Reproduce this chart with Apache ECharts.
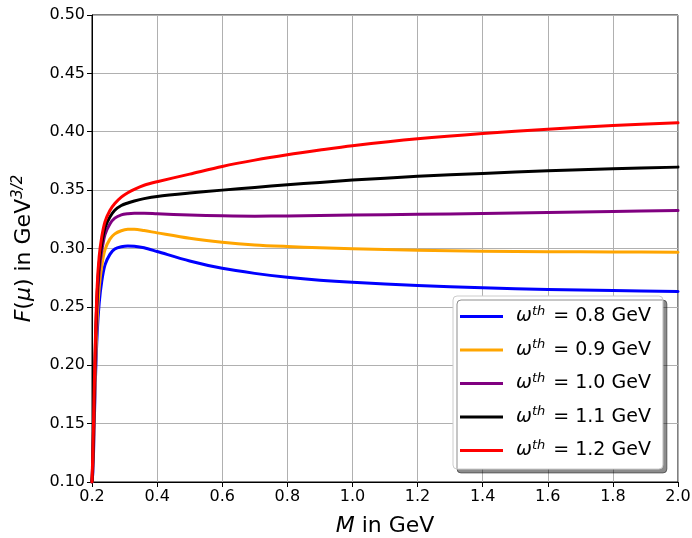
<!DOCTYPE html>
<html>
<head>
<meta charset="utf-8">
<script src="https://cdn.jsdelivr.net/npm/echarts@6/dist/echarts.min.js"></script>
<style>html,body{margin:0;padding:0;background:#fff}#c{width:692px;height:538px}</style>
</head>
<body>
<div id="c"></div>
<script>
const M = [0.2, 0.203, 0.206, 0.21, 0.216, 0.222, 0.23, 0.24, 0.255, 0.27, 0.29, 0.31, 0.33, 0.36, 0.4, 0.5, 0.6, 0.7, 0.8, 0.9, 1.0, 1.2, 1.4, 1.6, 1.8, 2.0];
const F08 = [0.10, 0.11, 0.139, 0.183, 0.228, 0.253, 0.272, 0.286, 0.295, 0.2995, 0.3015, 0.3022, 0.302, 0.3006, 0.2974, 0.2893, 0.2830, 0.2787, 0.2754, 0.2729, 0.2711, 0.2683, 0.2663, 0.2649, 0.2640, 0.2631];
const F09 = [0.10, 0.115, 0.145, 0.192, 0.24, 0.266, 0.285, 0.299, 0.308, 0.3125, 0.3152, 0.3164, 0.3165, 0.3154, 0.3134, 0.3087, 0.3054, 0.3031, 0.3017, 0.3006, 0.2997, 0.2985, 0.2977, 0.2973, 0.2970, 0.2968];
const F10 = [0.10, 0.12, 0.155, 0.205, 0.255, 0.28, 0.298, 0.312, 0.321, 0.326, 0.3288, 0.3298, 0.3302, 0.3302, 0.3297, 0.3286, 0.328, 0.3277, 0.3279, 0.3283, 0.3287, 0.3293, 0.3300, 0.3309, 0.3317, 0.3326];
const F11 = [0.10, 0.125, 0.162, 0.212, 0.262, 0.287, 0.304, 0.318, 0.327, 0.3328, 0.3368, 0.339, 0.3407, 0.3427, 0.3446, 0.3475, 0.3500, 0.3523, 0.3546, 0.3566, 0.3586, 0.3618, 0.3643, 0.3665, 0.3683, 0.3697];
const F12 = [0.10, 0.13, 0.168, 0.218, 0.268, 0.293, 0.31, 0.323, 0.3325, 0.3385, 0.344, 0.3477, 0.3507, 0.3542, 0.3572, 0.3637, 0.3703, 0.3757, 0.3803, 0.3843, 0.3880, 0.3940, 0.3986, 0.4022, 0.4053, 0.4077];
const omegas = ['0.8', '0.9', '1.0', '1.1', '1.2'];
const colors = ['#0000ff', '#ffa500', '#800080', '#000000', '#ff0000'];
const xTicks = [0.2, 0.4, 0.6, 0.8, 1.0, 1.2, 1.4, 1.6, 1.8, 2.0];
const yTicks = [0.10, 0.15, 0.20, 0.25, 0.30, 0.35, 0.40, 0.45, 0.50];

const allF = [F08, F09, F10, F11, F12];
const FONT = 'DejaVu Sans';
const chart = echarts.init(document.getElementById('c'), null, {renderer: 'canvas'});
const series = allF.map((arr, i) => ({
  name: 'w' + omegas[i],
  type: 'line',
  data: M.map((m, j) => [m, arr[j]]),
  showSymbol: false,
  symbol: 'none',
  smooth: 0.3,
  clip: true,
  lineStyle: {color: colors[i], width: 3, cap: 'round', join: 'round'},
  itemStyle: {color: colors[i]},
  z: 3 + i
}));
chart.setOption({
  animation: false,
  backgroundColor: '#fff',
  grid: {left: 92, right: 14, top: 15, bottom: 56, containLabel: false, outerBoundsMode: 'none',
         show: true, borderColor: '#000', borderWidth: 1, backgroundColor: 'transparent'},
  xAxis: {
    type: 'value', min: xTicks[0], max: xTicks[xTicks.length - 1], interval: 0.2,
    axisLine: {show: true, lineStyle: {color: '#000', width: 1}},
    axisTick: {show: true, length: 5, lineStyle: {color: '#000'}},
    axisLabel: {color: '#000', fontFamily: FONT, fontSize: 16, margin: 7, formatter: v => v.toFixed(1)},
    splitLine: {show: true, lineStyle: {color: '#b0b0b0', width: 1}},
    name: '{i|M} in GeV', nameLocation: 'middle', nameGap: 33,
    nameTextStyle: {color: '#000', fontFamily: FONT, fontSize: 22, rich: {i: {fontStyle: 'italic', fontFamily: FONT, fontSize: 22, color: '#000'}}}
  },
  yAxis: {
    type: 'value', min: yTicks[0], max: yTicks[yTicks.length - 1], interval: 0.05,
    axisLine: {show: true, lineStyle: {color: '#000', width: 1}},
    axisTick: {show: true, length: 5, lineStyle: {color: '#000'}},
    axisLabel: {color: '#000', fontFamily: FONT, fontSize: 16, margin: 7, formatter: v => v.toFixed(2)},
    splitLine: {show: true, lineStyle: {color: '#b0b0b0', width: 1}},
    name: '{i|F}({i|μ}) in GeV{s|3/2}', nameLocation: 'middle', nameGap: 55,
    nameTextStyle: {color: '#000', fontFamily: FONT, fontSize: 22,
      rich: {i: {fontStyle: 'italic', fontFamily: FONT, fontSize: 22, color: '#000'},
             s: {fontStyle: 'italic', fontFamily: FONT, fontSize: 15, color: '#000', verticalAlign: 'top', padding: [0, 0, 11, 0]}}}
  },
  legend: {
    orient: 'vertical', left: 453, top: 296,
    padding: [9, 12, 9, 7], itemGap: 12.5,
    itemWidth: 43, itemHeight: 3, icon: 'rect',
    backgroundColor: '#fff', borderColor: '#cccccc', borderWidth: 1, borderRadius: 4,
    shadowColor: 'rgba(0,0,0,0.45)', shadowOffsetX: 4, shadowOffsetY: 4, shadowBlur: 0,
    data: omegas.map(o => 'w' + o),
    formatter: n => '{w|ω}{s|th}{n| = ' + n.slice(1) + ' GeV}',
    textStyle: {fontFamily: FONT, fontSize: 19, color: '#000', padding: [0, 0, 0, 8],
      rich: {w: {fontStyle: 'italic', fontFamily: FONT, fontSize: 19, color: '#000', lineHeight: 21},
             s: {fontStyle: 'italic', fontFamily: FONT, fontSize: 13, color: '#000', verticalAlign: 'top', padding: [0, 2, 10, 0]},
             n: {fontFamily: FONT, fontSize: 19, color: '#000', lineHeight: 21}}}
  },
  series: series
});
</script>
</body>
</html>
